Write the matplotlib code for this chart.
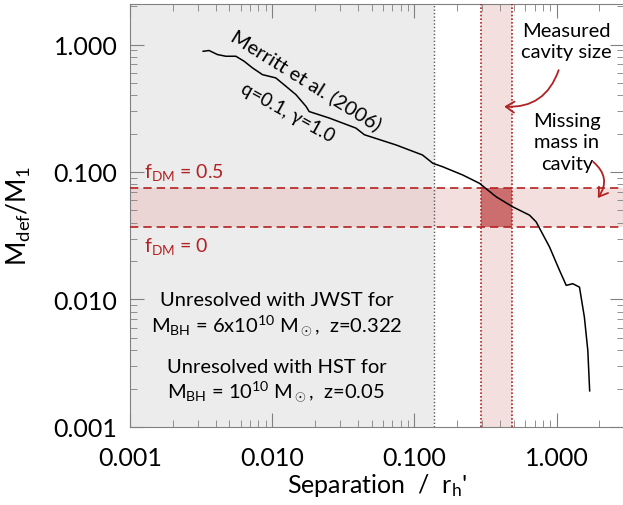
import numpy as np
import matplotlib
matplotlib.use("Agg")
from matplotlib import pyplot as plt
from matplotlib.patches import FancyArrowPatch

plt.rcParams['font.family'] = ['Lato', 'DejaVu Sans']
plt.rcParams['mathtext.fontset'] = 'custom'
plt.rcParams['mathtext.rm'] = 'Lato'
plt.rcParams['mathtext.it'] = 'Lato'

# Merritt et al. (2006) curve, q=0.1, gamma=1.0
sep = [0.00327, 0.00360, 0.00412, 0.00472, 0.00555, 0.00635, 0.00726, 0.00855,
       0.0106, 0.0125, 0.0147, 0.0173, 0.0182, 0.0252, 0.0388, 0.0445, 0.0743,
       0.114, 0.135, 0.158, 0.219, 0.287, 0.376, 0.492, 0.645, 0.719, 0.893,
       1.05, 1.17, 1.30, 1.45, 1.57, 1.66, 1.71]
mdef = [0.885, 0.897, 0.834, 0.809, 0.809, 0.739, 0.656, 0.580,
        0.547, 0.470, 0.404, 0.327, 0.298, 0.265, 0.221, 0.196, 0.163,
        0.136, 0.117, 0.110, 0.0947, 0.0815, 0.0639, 0.0533, 0.0459, 0.0406, 0.0258,
        0.0169, 0.0129, 0.0133, 0.0125, 0.00726, 0.00397, 0.00192]

resolution_limit = 0.138
cavity = (0.295, 0.49)
fdm_band = (0.037, 0.075)
ticks = [0.001, 0.01, 0.1, 1.0]
ticklabels = ['0.001', '0.010', '0.100', '1.000']

red = '#b22222'
axcol = '#808080'

fig = plt.figure(figsize=(6.23, 5.06), dpi=100)
ax = fig.add_axes([0.2087, 0.1542, 0.7935, 0.8360])
ax.set_xscale('log')
ax.set_yscale('log')
ax.set_xlim(0.001, 3.0)
ax.set_ylim(0.001, 2.08)

# unresolved region
ax.axvspan(0.001, resolution_limit, color='#ececec', zorder=0, lw=0)
ax.axvline(resolution_limit, color='#555555', ls=(0, (1, 1.5)), lw=1, zorder=3)

# f_DM band and cavity band
ax.axhspan(fdm_band[0], fdm_band[1], color='#e8b8b8', alpha=0.45, lw=0, zorder=1)
ax.axvspan(cavity[0], cavity[1], color='#e8b8b8', alpha=0.45, lw=0, zorder=1)
ax.fill_between(cavity, fdm_band[0], fdm_band[1], color='#cd6e6e', lw=0, zorder=2)
for yv in fdm_band:
    ax.axhline(yv, color=red, ls=(0, (5, 3)), lw=1.2, zorder=3)
for xv in cavity:
    ax.axvline(xv, color=red, ls=(0, (1, 1.2)), lw=1.2, zorder=3)

ax.plot(sep, mdef, color='black', lw=1.1, zorder=4)

ax.set_xticks(ticks)
ax.set_xticklabels(ticklabels)
ax.set_yticks(ticks)
ax.set_yticklabels(ticklabels)
ax.tick_params(which='both', direction='in', top=True, right=True, labelsize=18,
               color=axcol)
ax.tick_params(which='major', length=10)
ax.tick_params(which='minor', length=5)
ax.tick_params(axis='x', which='major', pad=14)
ax.tick_params(axis='y', which='major', pad=9)
for s in ax.spines.values():
    s.set_color(axcol)

ax.set_xlabel("Separation  /  r$_\\mathrm{h}$'", fontsize=18)
ax.set_ylabel('M$_\\mathrm{def}$/M$_1$', fontsize=19)
ax.xaxis.set_label_coords(0.5, -0.105)
ax.yaxis.set_label_coords(-0.197, 0.5)

# annotations
ax.text(0.0173, 0.53, 'Merritt et al. (2006)', rotation=-32, fontsize=14.5,
        ha='center', va='center', zorder=5)
ax.text(0.0128, 0.298, 'q=0.1, γ=1.0', rotation=-29, fontsize=13.5,
        ha='center', va='center', zorder=5)
ax.text(0.00125, 0.101, 'f$_\\mathrm{DM}$ = 0.5', color=red, fontsize=14,
        ha='left', va='center', zorder=5)
ax.text(0.00125, 0.0265, 'f$_\\mathrm{DM}$ = 0', color=red, fontsize=14,
        ha='left', va='center', zorder=5)
ax.text(0.0107, 0.0077, 'Unresolved with JWST for\nM$_\\mathrm{BH}$ = 6x10$^{10}$ M$_\\odot$,  z=0.322',
        fontsize=14.5, ha='center', va='center', linespacing=1.25, zorder=5)
ax.text(0.0107, 0.00232, 'Unresolved with HST for\nM$_\\mathrm{BH}$ = 10$^{10}$ M$_\\odot$,  z=0.05',
        fontsize=14.5, ha='center', va='center', linespacing=1.25, zorder=5)
ax.text(1.18, 1.066, 'Measured\ncavity size', fontsize=14.5, ha='center', va='center',
        linespacing=1.3, zorder=5)
ax.text(1.18, 0.172, 'Missing\nmass in\ncavity', fontsize=14.5, ha='center', va='center',
        linespacing=1.3, zorder=5)

ax.add_patch(FancyArrowPatch((1.05, 0.66), (0.41, 0.327), transform=ax.transData,
                             connectionstyle='arc3,rad=-0.4',
                             arrowstyle='->,head_length=6,head_width=4',
                             color=red, lw=1.3, zorder=5))
ax.add_patch(FancyArrowPatch((1.75, 0.124), (1.9, 0.060), transform=ax.transData,
                             connectionstyle='arc3,rad=-0.5',
                             arrowstyle='->,head_length=6,head_width=4',
                             color=red, lw=1.3, zorder=5))

fig.savefig('out.png', dpi=100)
